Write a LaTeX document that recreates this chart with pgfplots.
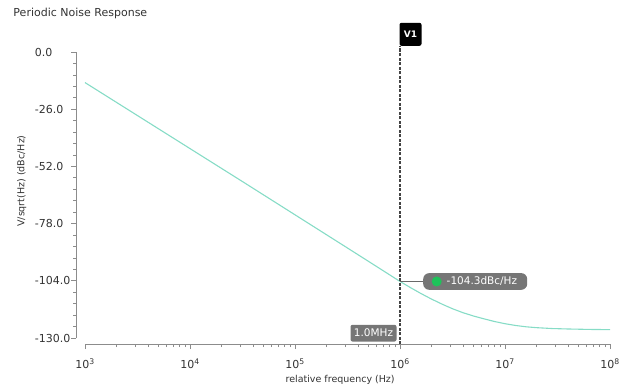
\documentclass[border=0pt]{standalone}
\usepackage{pgfplots}
\pgfplotsset{compat=1.18}
\usepackage{fontspec}
\setmainfont{DejaVu Sans}
\definecolor{curve}{HTML}{86DCC6}
\definecolor{axgray}{HTML}{8C8C8C}
\definecolor{boxgray}{HTML}{767676}
\definecolor{cursorgray}{HTML}{444444}
\definecolor{dotgreen}{HTML}{1EC35A}
\pgfplotstableread{
f val
1000 -13.9
3162.3 -28.9
10000 -43.9
31623 -58.9
100000 -74.0
316228 -89.1
630957 -98.2
1000000 -104.3
1258925 -107.1
1584893 -109.8
1995262 -112.3
2511886 -114.6
3162278 -116.7
3981072 -118.5
5011872 -120.0
6309573 -121.3
7943282 -122.5
10000000 -123.5
12589254 -124.3
15848932 -124.9
19952623 -125.3
28183829 -125.7
39810717 -125.9
63095734 -126.1
100000000 -126.2
}\noisedata
\begin{document}
\begin{tikzpicture}[x=1pt,y=1pt]
\useasboundingbox (-85,-51) rectangle (546,338);
\node[anchor=base west, inner sep=0pt, font=\fontsize{11}{13}\selectfont, text=black!80] at (-71.7,321.3) {Periodic Noise Response};
\begin{axis}[
  at={(0,0)}, anchor=south west,
  scale only axis, width=525pt, height=286pt,
  xmode=log, xmin=1e3, xmax=1e8, ymin=-130, ymax=0,
  axis x line*=bottom, axis y line*=left,
  axis x line shift=6pt, axis y line shift=9pt,
  axis line style={axgray, line width=0.8pt, -},
  tick align=outside,
  major tick length=5pt, minor tick length=3pt,
  every tick/.style={axgray, line width=0.7pt},
  ytick={-130,-104,-78,-52,-26,0},
  yticklabels={-130.0,-104.0,-78.0,-52.0,-26.0,0.0},
  minor y tick num=4,
  xtick={1e3,1e4,1e5,1e6,1e7,1e8},
  xticklabels={10\textsuperscript{3},10\textsuperscript{4},10\textsuperscript{5},10\textsuperscript{6},10\textsuperscript{7},10\textsuperscript{8}},
  yticklabel style={font=\fontsize{11}{13}\selectfont, text=black!80, text width=36pt, align=left, anchor=east, inner sep=0pt},
  xticklabel style={font=\fontsize{11}{13}\selectfont, text=black!80, yshift=-6pt},
  xlabel={relative frequency (Hz)},
  ylabel={V/sqrt(Hz) (dBc/Hz)},
  xlabel style={font=\fontsize{9.5}{11}\selectfont, text=black!80, at={(axis description cs:0.486,-0.1434)}, anchor=base, yshift=-3pt},
  ylabel style={font=\fontsize{9.5}{11}\selectfont, text=black!80, at={(axis description cs:-0.1206,0.549)}, anchor=center},
  clip=false,
]
\addplot[curve, line width=1.1pt] table[x=f, y=val] {\noisedata};
\draw[cursorgray, line width=1.1pt, dash pattern=on 3pt off 1.5pt] ([yshift=-6pt]axis cs:1e6,-130) -- ([yshift=6pt]axis cs:1e6,0);
\node[fill=black, rounded corners=2pt, text=white, font=\bfseries\fontsize{9}{10}\selectfont, minimum width=22pt, minimum height=23pt, inner sep=1pt, anchor=south west] at ([xshift=-0.7pt,yshift=6pt]axis cs:1e6,0) {V1};
\node[fill=boxgray, rounded corners=2pt, text=white, font=\fontsize{10.5}{12}\selectfont, minimum width=46pt, minimum height=16.7pt, inner sep=1pt, anchor=south east] at ([xshift=-3.3pt,yshift=-3.7pt]axis cs:1e6,-130) {1.0MHz};
\draw[cursorgray!80, line width=1.5pt] (axis cs:1e6,-104.3) -- ([xshift=25pt]axis cs:1e6,-104.3);
\node[fill=boxgray, rounded corners=6pt, minimum width=104pt, minimum height=16.7pt, inner sep=0pt, anchor=west] (mk) at ([xshift=23pt]axis cs:1e6,-104.3) {};
\fill[dotgreen] ([xshift=13.7pt]mk.west) circle (5pt);
\node[anchor=west, text=white, font=\fontsize{10.5}{12}\selectfont, inner sep=0pt] at ([xshift=23.5pt]mk.west) {-104.3dBc/Hz};
\end{axis}
\end{tikzpicture}
\end{document}
